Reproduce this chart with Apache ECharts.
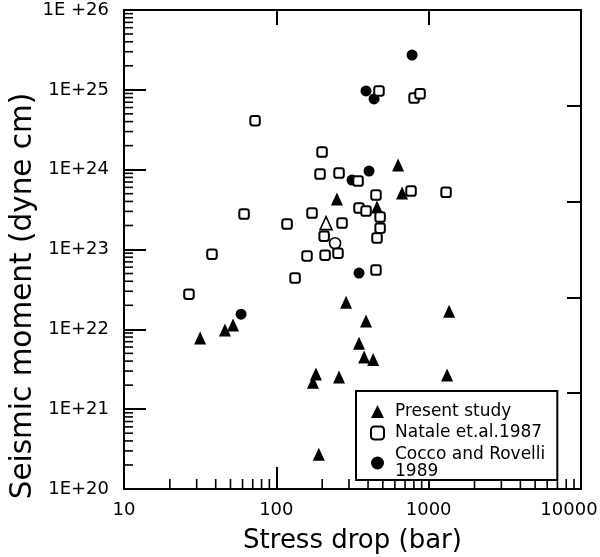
<!DOCTYPE html>
<html><head><meta charset="utf-8">
<script src="https://cdn.jsdelivr.net/npm/echarts@6/dist/echarts.min.js"></script>
<style>html,body{margin:0;padding:0;background:#fff}#c{width:600px;height:557px}</style>
</head><body><div id="c"></div>
<script>
// ---- data ----
const xTickLabels = ['10', '100', '1000', '10000'];
const yTickLabels = ['1E+20', '1E+21', '1E+22', '1E+23', '1E+24', '1E+25', '1E +26'];

const presentStress = [31.6, 46, 52, 174, 182, 190, 258, 287, 349, 377, 388, 432, 1321, 1362, 250, 458, 669, 630];
const presentMoment = [7.8e21, 9.8e21, 1.13e22, 2.18e21, 2.75e21, 2.73e20, 2.52e21, 2.19e22, 6.7e21, 4.5e21, 1.27e22, 4.2e21, 2.67e21, 1.69e22, 4.28e23, 3.4e23, 5.1e23, 1.14e24];
const presentOpenStress = [212];
const presentOpenMoment = [2.14e23];

const nataleStress = [26.7, 37.8, 61.4, 72.5, 117.6, 132.7, 159, 171.5, 193.6, 199.6, 206, 209, 254, 258, 270, 344, 349, 388, 451, 480, 480, 458, 451, 472, 802, 878, 766, 1301];
const nataleMoment = [2.76e22, 8.75e22, 2.78e23, 4.1e24, 2.08e23, 4.38e22, 8.3e22, 2.86e23, 8.8e23, 1.66e24, 1.47e23, 8.5e22, 9.0e22, 9.06e23, 2.14e23, 7.2e23, 3.3e23, 3.03e23, 4.8e23, 2.55e23, 1.85e23, 1.39e23, 5.52e22, 9.7e24, 7.9e24, 8.9e24, 5.4e23, 5.2e23];

const coccoStress = [58.7, 349, 314, 406, 388, 438, 778];
const coccoMoment = [1.55e22, 5.06e22, 7.4e23, 9.6e23, 9.7e24, 7.7e24, 2.73e25];
const coccoOpenStress = [243];
const coccoOpenMoment = [1.2e23];

const seriesNames = ['Present study', 'Natale et.al.1987', 'Cocco and Rovelli 1989'];

// ---- build ----
const FONT = 'DejaVu Sans';
const zip = (a, b) => a.map((v, i) => [v, b[i]]);
const openStyle = { color: '#fff', borderColor: '#000', borderWidth: 1.6, opacity: 1 };

const presentData = zip(presentStress, presentMoment)
  .concat(zip(presentOpenStress, presentOpenMoment).map(p => ({ value: p, itemStyle: openStyle })));
const coccoData = zip(coccoStress, coccoMoment)
  .concat(zip(coccoOpenStress, coccoOpenMoment).map(p => ({ value: p, itemStyle: openStyle })));

// minor tick positions (2..9 per decade)
const minorTicks = [];
for (let e = 1; e < 4; e++) for (let m = 2; m <= 9; m++) minorTicks.push([m * Math.pow(10, e), 1e20, 0]);
for (let e = 20; e < 26; e++) for (let m = 2; m <= 9; m++) minorTicks.push([10, m * Math.pow(10, e), 1]);

const chart = echarts.init(document.getElementById('c'), null, { renderer: 'canvas' });
chart.setOption({
  backgroundColor: '#fff',
  animation: false,
  grid: { left: 124, top: 10, right: 19, bottom: 68, containLabel: false, outerBoundsMode: 'none',
    show: true, borderColor: '#000', borderWidth: 2, backgroundColor: 'transparent' },
  xAxis: [{
    type: 'log', logBase: 10, min: 10, max: 10000,
    name: 'Stress drop (bar)', nameLocation: 'middle', nameGap: 39, nameMoveOverlap: false,
    nameTextStyle: { fontFamily: FONT, fontSize: 26, color: '#000' },
    axisLine: { show: false },
    axisTick: { show: true, inside: true, length: 22, lineStyle: { color: '#000', width: 2 } },
    axisLabel: { fontFamily: FONT, fontSize: 18, color: '#000', margin: 12, hideOverlap: false,
      formatter: v => {
        const i = Math.round(Math.log10(v)) - 1;
        return i === xTickLabels.length - 1 ? '{last|' + xTickLabels[i] + '}' : xTickLabels[i];
      },
      rich: { last: { fontFamily: FONT, fontSize: 18, color: '#000', padding: [0, 24, 0, 0] } } },
    splitLine: { show: false }
  }, {
    type: 'log', logBase: 10, min: 10, max: 10000, position: 'top',
    axisLine: { show: false },
    axisTick: { show: true, inside: true, length: 15, lineStyle: { color: '#000', width: 2 } },
    axisLabel: { show: false }, splitLine: { show: false }
  }],
  yAxis: [{
    type: 'log', logBase: 10, min: 1e20, max: 1e26,
    name: 'Seismic moment (dyne cm)', nameLocation: 'middle', nameGap: 86, nameRotate: 90, nameMoveOverlap: false,
    nameTextStyle: { fontFamily: FONT, fontSize: 29.5, color: '#000', padding: [0, 93, 0, 0] },
    axisLine: { show: false },
    axisTick: { show: true, inside: true, length: 22, lineStyle: { color: '#000', width: 2 } },
    axisLabel: { fontFamily: FONT, fontSize: 18, color: '#000', margin: 15, hideOverlap: false,
      formatter: v => yTickLabels[Math.round(Math.log10(v)) - 20] },
    splitLine: { show: false }
  }, {
    type: 'value', min: 0, max: 5, interval: 1, position: 'right',
    axisLine: { show: false },
    axisTick: { show: true, inside: true, length: 14, lineStyle: { color: '#000', width: 2 } },
    axisLabel: { show: false }, splitLine: { show: false }
  }],
  legend: {
    orient: 'vertical', left: 356, top: 391,
    padding: [12, 12, 0, 14], itemGap: 4.5, itemWidth: 13, itemHeight: 13,
    backgroundColor: '#fff', borderColor: '#000', borderWidth: 2, borderRadius: 0,
    textStyle: { fontFamily: FONT, fontSize: 17, color: '#000', lineHeight: 17, padding: [0, 0, 0, 6] },
    formatter: n => n === seriesNames[2] ? 'Cocco and Rovelli\n1989' : n,
    data: [
      { name: seriesNames[0] },
      { name: seriesNames[1] },
      { name: seriesNames[2], textStyle: { padding: [0, 0, -17, 6] } }
    ]
  },
  series: [
    {
      type: 'custom', silent: true, clip: false, z: 1,
      data: minorTicks,
      renderItem: (params, api) => {
        const p = api.coord([api.value(0), api.value(1)]);
        const dir = api.value(2);
        return {
          type: 'line',
          shape: dir === 0 ? { x1: p[0], y1: p[1], x2: p[0], y2: p[1] - 10 } : { x1: p[0], y1: p[1], x2: p[0] + 9, y2: p[1] },
          style: { stroke: '#000', lineWidth: 1.6 }
        };
      }
    },
    {
      name: seriesNames[0], type: 'scatter', symbol: 'triangle', symbolSize: [12, 13], z: 2,
      itemStyle: { color: '#000', opacity: 1 }, data: presentData
    },
    {
      name: seriesNames[2], type: 'scatter', symbol: 'circle', symbolSize: 11, z: 2,
      itemStyle: { color: '#000', opacity: 1 }, data: coccoData
    },
    {
      name: seriesNames[1], type: 'scatter', symbol: 'roundRect', symbolSize: 9.5, z: 3,
      itemStyle: { color: '#fff', borderColor: '#000', borderWidth: 2, opacity: 1 }, data: zip(nataleStress, nataleMoment)
    }
  ]
});
</script></body></html>
